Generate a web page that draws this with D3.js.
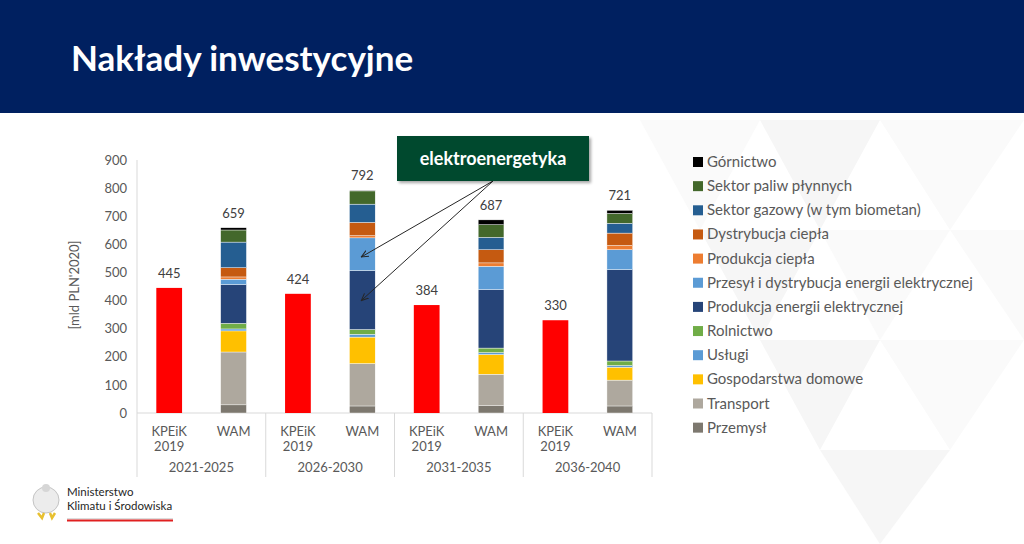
<!DOCTYPE html>
<html>
<head>
<meta charset="utf-8">
<script src="https://cdn.jsdelivr.net/npm/d3@7"></script>
<style>
  body { margin: 0; background: #fff; }
  svg { display: block; font-family: Lato, "Open Sans", sans-serif; }
</style>
</head>
<body>
<svg id="chart" width="1024" height="544"></svg>
<script>
// DATA
const groups = ["2021-2025", "2026-2030", "2031-2035", "2036-2040"];
const subCats = ["KPEiK", "WAM"];
const kpeik = [445, 424, 384, 330];
const wamTotals = [659, 792, 687, 721];
const yTicks = [0, 100, 200, 300, 400, 500, 600, 700, 800, 900];

// sectors bottom to top
const sectors = ["Przemysł", "Transport", "Gospodarstwa domowe", "Usługi", "Rolnictwo",
  "Produkcja energii elektrycznej", "Przesył i dystrybucja energii elektrycznej",
  "Produkcja ciepła", "Dystrybucja ciepła", "Sektor gazowy (w tym biometan)",
  "Sektor paliw płynnych", "Górnictwo"];
const colors = ["#7d786f", "#aea89e", "#ffc000", "#5b9bd5", "#70ad47",
  "#264478", "#5b9bd5", "#ed7d31", "#c55a11", "#255e91", "#43682b", "#000000"];

const przemysl   = [29, 25, 26, 25];
const transport  = [188, 151, 112, 92];
const gospodarst = [75, 94, 70, 46];
const uslugi     = [7, 10, 7, 6];
const rolnictwo  = [20, 17, 16, 16];
const prodEE     = [138, 210, 208, 325];
const przesyl    = [19, 116, 83, 71];
const prodCiepla = [8, 8, 12, 15];
const dystCiepla = [33, 47, 47, 44];
const gaz        = [91, 65, 44, 35];
const paliwa     = [43, 47, 45, 35];
const gornictwo  = [8, 2, 17, 11];
const sectorValues = [przemysl, transport, gospodarst, uslugi, rolnictwo, prodEE,
  przesyl, prodCiepla, dystCiepla, gaz, paliwa, gornictwo];

const svg = d3.select("#chart");

// background pattern (very light triangles)
const bg = svg.append("g");
const tri = [
  [[640,120],[760,120],[700,230]], [[760,120],[880,120],[820,230]],
  [[880,120],[1024,120],[950,230]], [[700,230],[820,230],[760,340]],
  [[820,230],[950,230],[880,340]], [[760,340],[880,340],[820,450]],
  [[880,340],[1024,340],[950,450]], [[820,450],[950,450],[880,544]],
  [[950,230],[1024,230],[1024,340]]
];
bg.selectAll("polygon").data(tri).join("polygon")
  .attr("points", d => d.map(p => p.join(",")).join(" "))
  .attr("fill", (d, i) => i % 2 ? "#f6f6f6" : "#fafafa");

// header
svg.append("rect").attr("x", 0).attr("y", 0).attr("width", 1024).attr("height", 113)
  .attr("fill", "#002060");
svg.append("text").attr("x", 71).attr("y", 71)
  .attr("fill", "#fff").attr("font-size", 35).attr("font-weight", "bold")
  .text("Nakłady inwestycyjne");

// SCALES
const x0 = d3.scaleBand().domain(groups).range([137, 652]);
const x1 = d3.scaleBand().domain(subCats).range([0, x0.bandwidth()])
  .paddingInner(0.6).paddingOuter(0.3);
const y = d3.scaleLinear().domain([0, 900]).range([413, 160]);

// AXES
const axisColor = "#d9d9d9";
svg.append("line").attr("x1", 137).attr("x2", 137).attr("y1", 160).attr("y2", 477)
  .attr("stroke", axisColor);
svg.append("line").attr("x1", 137).attr("x2", 652).attr("y1", y(0)).attr("y2", y(0))
  .attr("stroke", axisColor);
groups.forEach(g => {
  svg.append("line").attr("x1", x0(g) + x0.bandwidth()).attr("x2", x0(g) + x0.bandwidth())
    .attr("y1", y(0)).attr("y2", 477).attr("stroke", axisColor);
});

const yAxis = d3.axisLeft(y).tickValues(yTicks).tickSize(0).tickPadding(10);
const ya = svg.append("g").attr("transform", "translate(137,0)").call(yAxis);
ya.select(".domain").remove();
ya.selectAll("text").attr("font-size", 13).attr("fill", "#595959")
  .attr("font-family", "Lato, sans-serif");

svg.append("text").attr("transform", "translate(79,285) rotate(-90)")
  .attr("text-anchor", "middle").attr("font-size", 13).attr("fill", "#595959")
  .text("[mld PLN'2020]");

// category labels
const catG = svg.append("g").attr("font-size", 13).attr("fill", "#595959")
  .attr("text-anchor", "middle");
groups.forEach(g => {
  const kx = x0(g) + x1("KPEiK") + x1.bandwidth() / 2;
  const wx = x0(g) + x1("WAM") + x1.bandwidth() / 2;
  catG.append("text").attr("x", kx).attr("y", 436).text("KPEiK");
  catG.append("text").attr("x", kx).attr("y", 451).text("2019");
  catG.append("text").attr("x", wx).attr("y", 436).text("WAM");
  catG.append("text").attr("x", x0(g) + x0.bandwidth() / 2).attr("y", 472).text(g);
});

// KPEiK bars
svg.append("g").selectAll("rect").data(groups).join("rect")
  .attr("x", g => x0(g) + x1("KPEiK"))
  .attr("width", x1.bandwidth())
  .attr("y", (g, i) => y(kpeik[i]))
  .attr("height", (g, i) => y(0) - y(kpeik[i]))
  .attr("fill", "#ff0000");

// WAM stacked bars
const table = groups.map((g, i) => {
  const row = { group: g };
  sectors.forEach((s, j) => row[s] = sectorValues[j][i]);
  return row;
});
const stack = d3.stack().keys(sectors)(table);
svg.append("g").selectAll("g").data(stack).join("g")
  .attr("fill", (d, i) => colors[i])
  .selectAll("rect").data(d => d).join("rect")
  .attr("x", d => x0(d.data.group) + x1("WAM"))
  .attr("width", x1.bandwidth())
  .attr("y", d => y(d[1]))
  .attr("height", d => y(d[0]) - y(d[1]))
  .attr("stroke", "#ffffff").attr("stroke-width", 0.4);

// value labels
const lab = svg.append("g").attr("font-size", 13).attr("fill", "#404040")
  .attr("text-anchor", "middle");
groups.forEach((g, i) => {
  lab.append("text").attr("x", x0(g) + x1("KPEiK") + x1.bandwidth() / 2)
    .attr("y", y(kpeik[i]) - 10).text(kpeik[i]);
  lab.append("text").attr("x", x0(g) + x1("WAM") + x1.bandwidth() / 2)
    .attr("y", y(wamTotals[i]) - 10).text(wamTotals[i]);
});

// annotation
const defs = svg.append("defs");
defs.append("marker").attr("id", "arr").attr("viewBox", "0 0 10 10")
  .attr("refX", 9).attr("refY", 5).attr("markerWidth", 8).attr("markerHeight", 8)
  .attr("orient", "auto")
  .append("path").attr("d", "M0,1 L9,5 L0,9").attr("fill", "none")
  .attr("stroke", "#262626").attr("stroke-width", 1.3);
defs.append("filter").attr("id", "sh").append("feDropShadow")
  .attr("dx", 2).attr("dy", 2).attr("stdDeviation", 1.5).attr("flood-opacity", 0.35);

const wx2 = x0(groups[1]) + x1("WAM") + x1.bandwidth() / 2 - 1;
[[493, 181, wx2, y(555)], [493, 181, wx2, y(400)]].forEach(l => {
  svg.append("line").attr("x1", l[0]).attr("y1", l[1]).attr("x2", l[2]).attr("y2", l[3])
    .attr("stroke", "#262626").attr("stroke-width", 1).attr("marker-end", "url(#arr)");
});
svg.append("rect").attr("x", 397).attr("y", 136).attr("width", 192).attr("height", 45)
  .attr("fill", "#00482d").attr("filter", "url(#sh)");
svg.append("text").attr("x", 493).attr("y", 165).attr("text-anchor", "middle")
  .attr("fill", "#fff").attr("font-size", 18).attr("font-weight", "bold")
  .text("elektroenergetyka");

// legend
const legendOrder = sectors.slice().reverse();
const legendColors = colors.slice().reverse();
const lg = svg.append("g").selectAll("g").data(legendOrder).join("g")
  .attr("transform", (d, i) => `translate(693,${162 + i * 24.15})`);
lg.append("rect").attr("x", 0).attr("y", -5).attr("width", 10).attr("height", 10)
  .attr("fill", (d, i) => legendColors[i]);
lg.append("text").attr("x", 14).attr("y", 5).attr("font-size", 15).attr("fill", "#595959")
  .text(d => d);

// logo
const logo = svg.append("g");
logo.append("ellipse").attr("cx", 46).attr("cy", 500).attr("rx", 13).attr("ry", 13)
  .attr("fill", "#ececec").attr("stroke", "#c4c4c4");
logo.append("circle").attr("cx", 46).attr("cy", 488).attr("r", 4).attr("fill", "#d6d6d6");
logo.append("path").attr("d", "M38,513 L42,518 L44,513 M50,513 L52,518 L55,513")
  .attr("stroke", "#e8c030").attr("stroke-width", 2.5).attr("fill", "none");
logo.append("text").attr("x", 67).attr("y", 496).attr("font-size", 11.5).attr("fill", "#262626")
  .text("Ministerstwo");
logo.append("text").attr("x", 67).attr("y", 510).attr("font-size", 11.5).attr("fill", "#262626")
  .text("Klimatu i Środowiska");
logo.append("rect").attr("x", 67).attr("y", 518).attr("width", 106).attr("height", 1.5)
  .attr("fill", "#dddddd");
logo.append("rect").attr("x", 67).attr("y", 519.5).attr("width", 106).attr("height", 2)
  .attr("fill", "#e02020");
</script>
</body>
</html>
